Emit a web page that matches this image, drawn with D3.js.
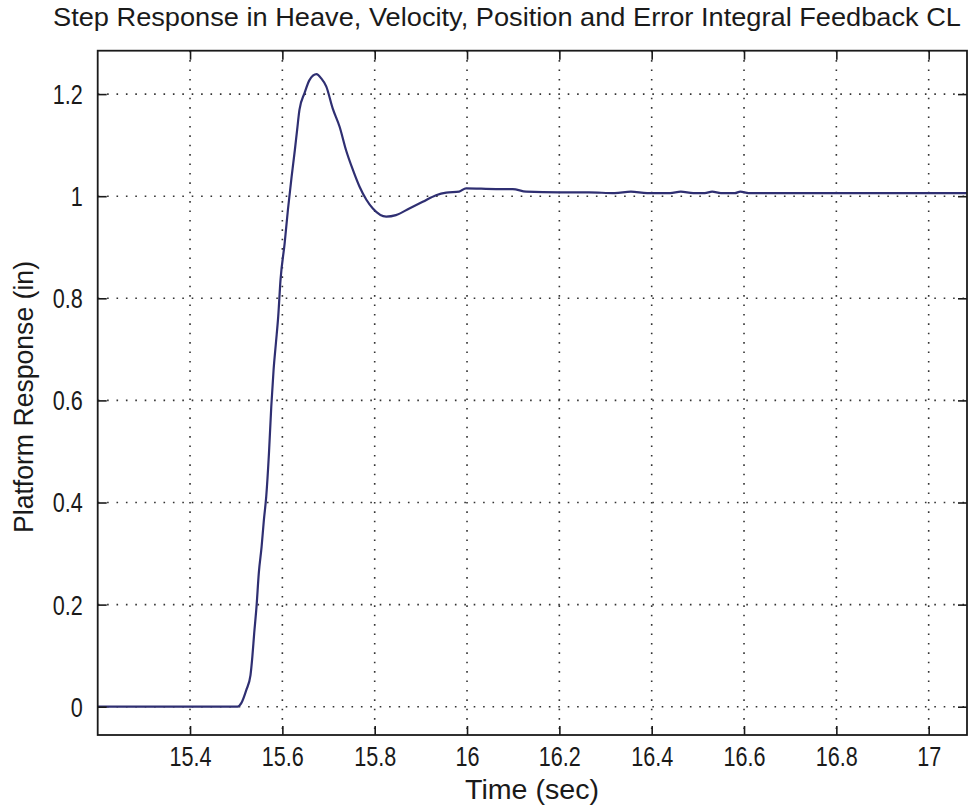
<!DOCTYPE html>
<html>
<head>
<meta charset="utf-8">
<script src="https://cdn.jsdelivr.net/npm/d3@7"></script>
<style>
  html, body { margin: 0; padding: 0; background: #fff; }
  svg text { font-family: "Liberation Sans", Arial, sans-serif; fill: #1a1a1a; }
</style>
</head>
<body>
<svg id="chart" width="970" height="808"></svg>
<script>
// Step response samples: time (s) and platform heave response (in)
const timeSec = [15.2, 15.30, 15.40, 15.503, 15.511, 15.522, 15.531, 15.535, 15.539, 15.544, 15.549,
  15.555, 15.560, 15.565, 15.571, 15.576, 15.581, 15.586, 15.591, 15.596, 15.605, 15.612,
  15.620, 15.627, 15.632, 15.637, 15.648, 15.659, 15.674, 15.684, 15.695, 15.709, 15.724,
  15.738, 15.753, 15.767, 15.782, 15.796, 15.825, 15.846, 15.875, 15.904, 15.933, 15.955,
  15.983, 15.998, 16.063, 16.099, 16.128, 16.200, 16.264, 16.320, 16.355, 16.390, 16.440,
  16.463, 16.490, 16.515, 16.531, 16.550, 16.580, 16.592, 16.610, 16.800, 17.083];
const response = [0, 0, 0, 0, 0.007, 0.033, 0.062, 0.098, 0.144, 0.196, 0.262,
  0.313, 0.366, 0.411, 0.497, 0.588, 0.660, 0.712, 0.764, 0.836, 0.908, 0.973,
  1.038, 1.090, 1.130, 1.169, 1.202, 1.228, 1.239, 1.231, 1.215, 1.172, 1.136,
  1.090, 1.051, 1.019, 0.993, 0.976, 0.960, 0.963, 0.976, 0.989, 1.002, 1.007,
  1.009, 1.0155, 1.014, 1.014, 1.009, 1.0076, 1.0076, 1.006, 1.009, 1.006, 1.006,
  1.009, 1.006, 1.006, 1.009, 1.006, 1.006, 1.009, 1.006, 1.006, 1.006];

const xTicks = [15.4, 15.6, 15.8, 16, 16.2, 16.4, 16.6, 16.8, 17];
const xTickLabels = ["15.4", "15.6", "15.8", "16", "16.2", "16.4", "16.6", "16.8", "17"];
const yTicks = [0, 0.2, 0.4, 0.6, 0.8, 1, 1.2];
const yTickLabels = ["0", "0.2", "0.4", "0.6", "0.8", "1", "1.2"];

const titleText = "Step Response in Heave, Velocity, Position and Error Integral Feedback CL";
const xLabelText = "Time (sec)";
const yLabelText = "Platform Response (in)";

const xDomain = [15.2, 17.083];
const yDomain = [-0.0554, 1.285];

const svg = d3.select("#chart");
const plot = { left: 97.7, right: 967, top: 50.7, bottom: 735 };

const x = d3.scaleLinear().domain(xDomain).range([plot.left, plot.right]);
const y = d3.scaleLinear().domain(yDomain).range([plot.bottom, plot.top]);

const lineColor = "#2f2f72";
const inkColor = "#1a1a1a";
const tickLen = 9;

// Dotted grid
const grid = svg.append("g");
grid.selectAll("line.vx").data(xTicks).join("line")
  .attr("x1", d => x(d)).attr("x2", d => x(d))
  .attr("y1", plot.top).attr("y2", plot.bottom)
  .attr("stroke", "#333").attr("stroke-width", 1.6)
  .attr("stroke-dasharray", "1.6,7.8");
grid.selectAll("line.hy").data(yTicks).join("line")
  .attr("x1", plot.left).attr("x2", plot.right)
  .attr("y1", d => y(d)).attr("y2", d => y(d))
  .attr("stroke", "#333").attr("stroke-width", 1.6)
  .attr("stroke-dasharray", "1.6,7.8");

// Response curve
const line = d3.line().x((d, i) => x(timeSec[i])).y(d => y(d)).curve(d3.curveMonotoneX);
svg.append("path")
  .attr("d", line(response))
  .attr("fill", "none")
  .attr("stroke", lineColor)
  .attr("stroke-width", 2.2)
  .attr("stroke-linejoin", "round");

// Axes: inward ticks on all four sides
const axB = d3.axisBottom(x).tickValues(xTicks).tickSizeInner(-tickLen).tickSizeOuter(0)
  .tickFormat((d, i) => xTickLabels[i]).tickPadding(14);
const axT = d3.axisTop(x).tickValues(xTicks).tickSizeInner(-tickLen).tickSizeOuter(0).tickFormat("");
const axL = d3.axisLeft(y).tickValues(yTicks).tickSizeInner(-tickLen).tickSizeOuter(0)
  .tickFormat((d, i) => yTickLabels[i]).tickPadding(15);
const axR = d3.axisRight(y).tickValues(yTicks).tickSizeInner(-tickLen).tickSizeOuter(0).tickFormat("");

function styleAxis(g) {
  g.select(".domain").remove();
  g.selectAll(".tick line").attr("stroke", inkColor).attr("stroke-width", 1.6);
  g.selectAll(".tick text").attr("class", "narrow").attr("font-size", 27)
    .attr("fill", inkColor).style("font-family", '"Liberation Sans", Arial, sans-serif');
}
svg.append("g").attr("transform", `translate(0,${plot.bottom})`).call(axB).call(styleAxis)
  .selectAll(".tick text").attr("dy", "0.71em").attr("y", 12);
svg.append("g").attr("transform", `translate(0,${plot.top})`).call(axT).call(styleAxis);
svg.append("g").attr("transform", `translate(${plot.left},0)`).call(axL).call(styleAxis)
  .selectAll(".tick text").attr("dy", "0.35em");
svg.append("g").attr("transform", `translate(${plot.right},0)`).call(axR).call(styleAxis);

// Box
svg.append("rect")
  .attr("x", plot.left).attr("y", plot.top)
  .attr("width", plot.right - plot.left).attr("height", plot.bottom - plot.top)
  .attr("fill", "none").attr("stroke", inkColor).attr("stroke-width", 1.8);

// Condensed tick lettering
svg.selectAll("text.narrow").each(function () {
  const w = this.getComputedTextLength();
  d3.select(this).attr("textLength", w * 0.8).attr("lengthAdjust", "spacingAndGlyphs");
});

// Title and axis labels, fitted to fixed widths
svg.append("text")
  .attr("x", 507).attr("y", 26).attr("text-anchor", "middle")
  .attr("font-size", 26).attr("textLength", 908).attr("lengthAdjust", "spacingAndGlyphs")
  .text(titleText);
svg.append("text")
  .attr("x", 532).attr("y", 799).attr("text-anchor", "middle")
  .attr("font-size", 27).attr("textLength", 134).attr("lengthAdjust", "spacingAndGlyphs")
  .text(xLabelText);
svg.append("text")
  .attr("transform", "translate(33,397) rotate(-90)").attr("text-anchor", "middle")
  .attr("font-size", 27).attr("textLength", 272).attr("lengthAdjust", "spacingAndGlyphs")
  .text(yLabelText);
</script>
</body>
</html>
